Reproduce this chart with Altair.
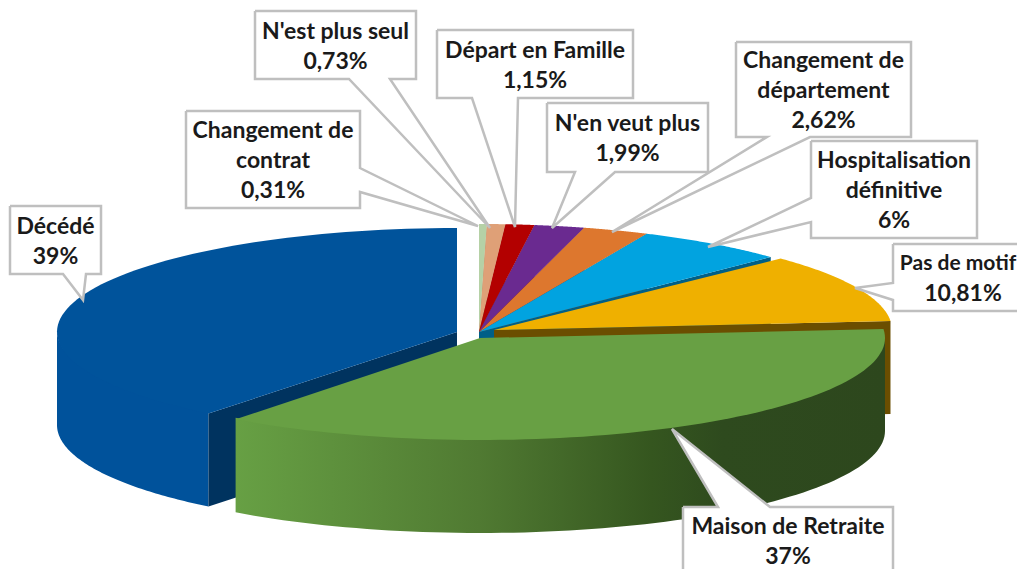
import numpy as np
import pandas as pd
import altair as alt

# ---------- values ----------
categories = ["Changement de contrat", "N'est plus seul", "Départ en Famille", "N'en veut plus",
              "Changement de département", "Hospitalisation définitive", "Pas de motif",
              "Maison de Retraite", "Décédé"]
values = [0.31, 0.73, 1.15, 1.99, 2.62, 6, 10.81, 36.7, 39.69]  # last two
label_lines = [["Changement de", "contrat", "0,31%"], ["N'est plus seul", "0,73%"],
               ["Départ en Famille", "1,15%"], ["N'en veut plus", "1,99%"],
               ["Changement de", "département", "2,62%"], ["Hospitalisation", "définitive", "6%"],
               ["Pas de motif", "10,81%"], ["Maison de Retraite", "37%"], ["Décédé", "39%"]]

# ---------- styles and layout ----------
top_colors = ["#b5d1a6", "#dfa077", "#b30000", "#6a2a90", "#dd772e", "#01a3e0", "#efb000", "#68a044", "#00539b"]
face_colors = ["#6f8a60", "#8f6040", "#7a0000", "#45195f", "#8f4c1c", "#005f87", "#6b4e00", "#2e4a1f", "#00335f"]
# ellipse of each slice: centre x, centre y, radius x, radius y (slices are exploded)
ellipses = [(479, 332, 405, 108)] * 6 + [(494, 330, 398, 103), (480, 338, 405, 102), (457, 332, 400, 104)]
depth = 93
wall_overlap = -1.5  # walls tuck under the top surface so no seam shows
blue_cut_shift = np.radians(1.3)  # perspective of the 3D view at the exploded slice's cut
# callout boxes: left, right, top, bottom
boxes = [(186, 360, 111, 208), (255, 416, 11, 79), (437, 633, 30, 98), (547, 708, 103, 172),
         (736, 911, 42, 137), (811, 977, 141, 238), (893, 1060, 244, 311), (683, 893, 507, 600), (10, 101, 206, 274)]
# side of the wedge, its two base points and its tip
wedges = [("r", (360, 168), (360, 192), (478, 226)), ("b", (349, 79), (390, 79), (490, 228)),
          ("b", (472, 98), (518, 98), (515, 227)), ("b", (575, 172), (615, 172), (552, 228)),
          ("b", (767, 137), (810, 137), (612, 232)), ("l", (811, 198), (811, 222), (708, 247)),
          ("l", (893, 283), (893, 300), (855, 288)), ("t", (718, 507), (770, 507), (672, 429)),
          ("b", (63, 274), (86, 274), (83, 300))]
line_pitch = 30
font = "Lato"
font_size = 23
tight_font_size = 21  # the label that runs into the right edge

W, H = 1009, 561
sx = alt.Scale(domain=[8, 1017], nice=False, zero=False)
sy = alt.Scale(domain=[8, 569], nice=False, zero=False, reverse=True)

total = sum(values)
edges = np.concatenate([[0], np.cumsum(values)]) / total * 2 * np.pi


def arc(e, a0, a1, dz=0.0, n=80):
    t = np.linspace(a0, a1, n)
    return list(zip(e[0] + e[2] * np.sin(t), e[1] - e[3] * np.cos(t) + dz))


def poly(pts, fill, **kw):
    pts = list(pts) + [pts[0]]
    df = pd.DataFrame({"x": [p[0] for p in pts], "y": [p[1] for p in pts], "i": range(len(pts))})
    args = dict(fill=fill, clip=True)
    if "stroke" in kw:
        args.update(kw)
    else:
        args.update(strokeOpacity=0)
    return alt.Chart(df).mark_line(**args).encode(
        x=alt.X("x:Q", scale=sx, axis=None),
        y=alt.Y("y:Q", scale=sy, axis=None),
        order=alt.Order("i:Q"),
    )


layers = []
# Décédé (back left, drawn first)
i = 8
e = ellipses[i]
a0, a1 = edges[i] + blue_cut_shift, edges[i + 1]
apex = (e[0], e[1])
layers.append(poly(arc(e, a0, 1.5 * np.pi, wall_overlap) + arc(e, 1.5 * np.pi, a0, depth), "#00529b"))
start = arc(e, a0, a0, n=1)[0]
layers.append(poly([apex, start, (start[0], start[1] + depth), (apex[0], apex[1] + depth)], face_colors[i]))
layers.append(poly([apex] + arc(e, a0, a1), top_colors[i]))

# back slices, clockwise: the end face of each one is covered by the next top
for i in range(6):
    e = ellipses[i]
    a0, a1 = edges[i], edges[i + 1]
    apex = (e[0], e[1])
    end = arc(e, a1, a1, n=1)[0]
    layers.append(poly([apex, end, (end[0], end[1] + depth), (apex[0], apex[1] + depth)], face_colors[i]))
    layers.append(poly([apex] + arc(e, a0, a1), top_colors[i]))

# Pas de motif
i = 6
e = ellipses[i]
a0, a1 = edges[i], edges[i + 1]
apex = (e[0], e[1])
end = arc(e, a1, a1, n=1)[0]
layers.append(poly([apex, end, (end[0], end[1] + depth), (apex[0], apex[1] + depth)], face_colors[i]))
layers.append(poly([apex] + arc(e, a0, a1), top_colors[i]))

# Maison de Retraite with its shaded wall
i = 7
e = ellipses[i]
a0, a1 = edges[i], edges[i + 1]
apex = (e[0], e[1])
wall_gradient = alt.LinearGradient(
    gradient="linear", x1=0, x2=1, y1=0, y2=0,
    stops=[alt.GradientStop(color="#67a044", offset=0),
           alt.GradientStop(color="#507a32", offset=0.375),
           alt.GradientStop(color="#35561f", offset=0.64),
           alt.GradientStop(color="#2e4a1e", offset=0.75),
           alt.GradientStop(color="#2d471d", offset=1)])
layers.append(poly(arc(e, np.pi / 2, a1, wall_overlap) + arc(e, a1, np.pi / 2, depth), wall_gradient))
layers.append(poly([apex] + arc(e, a0, a1), top_colors[i]))

# callouts
for box, w in zip(boxes, wedges):
    l, r, t, b = box
    side, p, q, tip = w
    if side == "b":
        pts = [(l, t), (r, t), (r, b), q, tip, p, (l, b)]
    elif side == "r":
        pts = [(l, t), (r, t), p, tip, q, (r, b), (l, b)]
    elif side == "l":
        pts = [(l, t), (r, t), (r, b), (l, b), q, tip, p]
    else:
        pts = [(l, t), p, tip, q, (r, t), (r, b), (l, b)]
    layers.append(poly(pts, "white", stroke="#bfbfbf", strokeWidth=2.5, strokeJoin="miter"))

# labels
rows = []
for box, lines in zip(boxes, label_lines):
    l, r, t, b = box
    cx = (l + r) / 2
    cy = (t + b) / 2 + 1.5
    if b > 569:
        cy = t + 35
    for k, s in enumerate(lines):
        size = font_size
        x = cx
        if r > 1017:
            x = 958 if k == 0 else 963
            size = tight_font_size if k == 0 else font_size
        rows.append({"x": x, "y": cy + (k - (len(lines) - 1) / 2) * line_pitch, "s": s, "size": size})
text = alt.Chart(pd.DataFrame(rows)).mark_text(
    font=font, fontWeight="bold", color="#1a1a1a", baseline="middle", align="center", clip=True
).encode(
    x=alt.X("x:Q", scale=sx, axis=None),
    y=alt.Y("y:Q", scale=sy, axis=None),
    text="s:N",
    size=alt.Size("size:Q", scale=None, legend=None),
)
layers.append(text)

chart = alt.layer(*layers).properties(
    width=W, height=H, padding=0, autosize=alt.AutoSizeParams(type="none")
).configure_view(stroke=None)

chart.save("out.html", embed_options={"renderer": "svg", "actions": False})
